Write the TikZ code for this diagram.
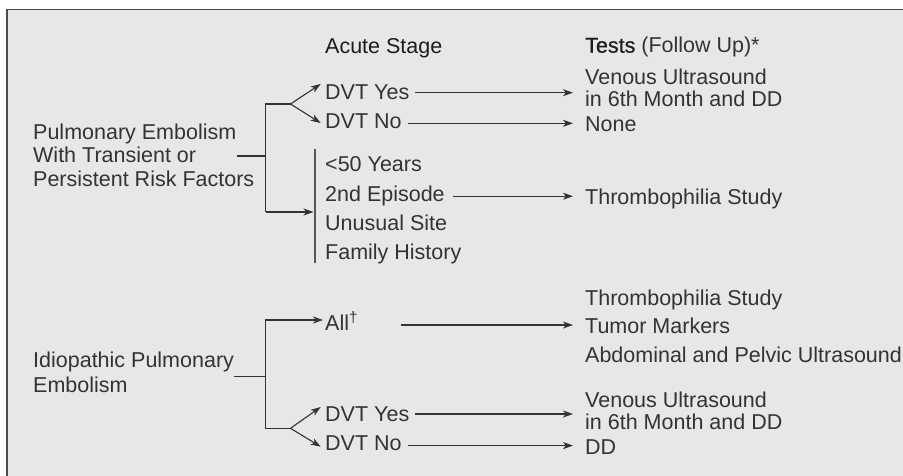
\documentclass[tikz,border=0pt]{standalone}
\usepackage{fontspec}
\setmainfont{Liberation Sans}
\newfontfamily\headfont[FakeBold=0.5]{Liberation Sans}
\usetikzlibrary{arrows.meta,calc}
\definecolor{panel}{HTML}{E6E7E9}
\definecolor{ink}{HTML}{333333}
\definecolor{heading}{HTML}{1C1C1C}
\definecolor{rule}{HTML}{4A4A4A}
\definecolor{barcol}{HTML}{555555}

\begin{document}
\begin{tikzpicture}[x=1pt,y=-1pt,
  lbl/.style={anchor=base west, inner sep=0pt, text=ink,
              font=\fontsize{21.5}{24}\selectfont},
  head/.style={lbl, text=heading},
  conn/.style={draw=ink, line width=1.1pt, line join=miter},
  arr/.style={conn, -{Stealth[length=10pt,width=7pt,inset=2.8pt]}},
  riskbar/.style={draw=barcol, line width=1.4pt},
]
\useasboundingbox (0,0) rectangle (903,475);
\fill[white] (0,0) rectangle (903,475);
\begin{scope}
  \clip (0,0) rectangle (903,475);
  \draw[draw=rule, line width=1.6pt, fill=panel] (6.7,9.5) rectangle (960,520);
\end{scope}

% column headings
\node[head] (acute) at (325,53.3) {Acute Stage};
\node[head] (tests) at (585,52.7) {{\headfont Tests} \textcolor{ink}{(Follow Up)*}};

% first case: transient or persistent risk factors
\node[lbl] (pe1) at (33,139) {Pulmonary Embolism};
\node[lbl] (pe2) at (33,162.7) {With Transient or};
\node[lbl] (pe3) at (33,186) {Persistent Risk Factors};
\node[lbl] (yes1) at (325,99.3) {DVT Yes};
\node[lbl] (no1) at (325,128.3) {DVT No};
\node[lbl] (r1) at (325,171.7) {<50 Years};
\node[lbl] (r2) at (325,201) {2nd Episode};
\node[lbl] (r3) at (325,230) {Unusual Site};
\node[lbl] (r4) at (325,259) {Family History};
\node[lbl] (vus1a) at (585,84.3) {Venous Ultrasound};
\node[lbl] (vus1b) at (585,106.7) {in 6th Month and DD};
\node[lbl] (none) at (585,131.7) {None};
\node[lbl] (thr1) at (585,204.3) {Thrombophilia Study};

% second case: idiopathic
\node[lbl] (ip1) at (33,367.3) {Idiopathic Pulmonary};
\node[lbl] (ip2) at (33,392.3) {Embolism};
\node[lbl] (all) at (325,330.7) {All\raisebox{1pt}{\textsuperscript{†}}};
\node[lbl] (yes2) at (325,421.7) {DVT Yes};
\node[lbl] (no2) at (325,450) {DVT No};
\node[lbl] (thr2) at (585,305) {Thrombophilia Study};
\node[lbl] (tum) at (585,333.5) {Tumor Markers};
\node[lbl] (abd) at (585,362.5) {Abdominal and Pelvic Ultrasound};
\node[lbl] (vus2a) at (585,407.3) {Venous Ultrasound};
\node[lbl] (vus2b) at (585,429.3) {in 6th Month and DD};
\node[lbl] (dd) at (585,454) {DD};

% junction points of the first tree
\coordinate (peStub) at (237,156);
\coordinate (trunkOneTop) at (265.5,104);
\coordinate (trunkOneMid) at (265.5,156);
\coordinate (trunkOneBot) at (265.5,212);
\coordinate (forkOne) at (290.5,104);
\coordinate (barTop) at (315,149);
\coordinate (barBot) at (315,263);
\coordinate (barHit) at (313.5,212);

\draw[conn] (peStub) -- (trunkOneMid);
\draw[conn] (forkOne) -- (trunkOneTop) -- (trunkOneBot);
\draw[arr] (trunkOneBot) -- (barHit);
\draw[riskbar] (barTop) -- (barBot);
\draw[arr] (forkOne) -- ($(yes1.base west)+(-4.3,-15.3)$);
\draw[arr] (forkOne) -- ($(no1.base west)+(-4.3,-5.3)$);

\draw[arr] ($(yes1.base east)+(6,-6.6)$) -- ($(vus1a.base west |- yes1.base east)+(-12,-6.6)$);
\draw[arr] ($(no1.base east)+(6,-5)$) -- ($(none.base west |- no1.base east)+(-12,-5)$);
\draw[arr] ($(r2.base east)+(8,-4.8)$) -- ($(thr1.base west |- r2.base east)+(-12,-4.8)$);

% junction points of the second tree
\coordinate (ipStub) at (234,376.7);
\coordinate (trunkTwoTop) at (265.5,320);
\coordinate (trunkTwoMid) at (265.5,376.7);
\coordinate (trunkTwoBot) at (265.5,428.3);
\coordinate (forkTwo) at (290.5,428.3);
\coordinate (allOut) at (401,325);

\draw[conn] (ipStub) -- (trunkTwoMid);
\draw[arr] (forkTwo) -- (trunkTwoBot) -- (trunkTwoTop) -- ($(all.base west)+(-2,-10.7)$);
\draw[arr] (forkTwo) -- ($(yes2.base west)+(-4.3,-14.7)$);
\draw[arr] (forkTwo) -- ($(no2.base west)+(-4.3,-3.3)$);

\draw[arr] (allOut) -- ($(tum.base west |- allOut)+(-12,0)$);
\draw[arr] ($(yes2.base east)+(6,-7.7)$) -- ($(vus2a.base west |- yes2.base east)+(-12,-7.7)$);
\draw[arr] ($(no2.base east)+(6,-4.4)$) -- ($(dd.base west |- no2.base east)+(-12,-4.4)$);
\end{tikzpicture}
\end{document}
